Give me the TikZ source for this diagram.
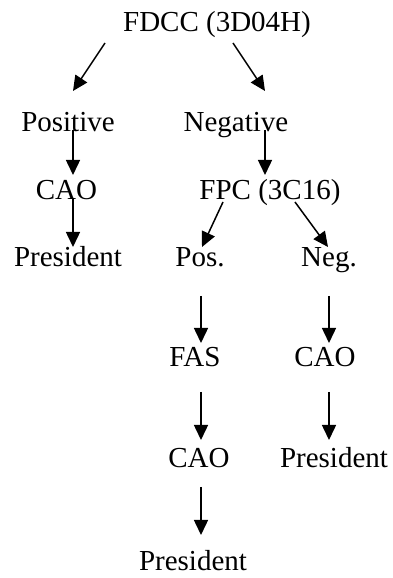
\documentclass[tikz,border=0pt]{standalone}
\usepackage{fontspec}
\setmainfont{Liberation Serif}
\usetikzlibrary{arrows.meta}
\begin{document}
\begin{tikzpicture}[x=1pt,y=1pt,
  lbl/.style={anchor=base,inner sep=0pt,font=\fontsize{29}{34}\selectfont},
  arr/.style={line width=1.5pt,-{Triangle[length=15pt,width=14pt]}}]
\useasboundingbox (0,0) rectangle (393,578);
\node[lbl] (fdcc) at (217,546) {FDCC (3D04H)};
\node[lbl] (positive) at (68,446) {Positive};
\node[lbl] (negative) at (236,446) {Negative};
\node[lbl] (caoa) at (66.5,378) {CAO};
\node[lbl] (fpc) at (270,378) {FPC (3C16)};
\node[lbl] (presa) at (68,311) {President};
\node[lbl] (pos) at (200,311) {Pos.};
\node[lbl] (neg) at (329,311) {Neg.};
\node[lbl] (fas) at (195,211) {FAS};
\node[lbl] (caob) at (325,211) {CAO};
\node[lbl] (caoc) at (199,110) {CAO};
\node[lbl] (presb) at (334,110) {President};
\node[lbl] (presc) at (193,8) {President};
% arrow end points
\coordinate (a1s) at (105,535); \coordinate (a1e) at (73,487);
\coordinate (a2s) at (233,535); \coordinate (a2e) at (265,487);
\coordinate (a3s) at (73,448); \coordinate (a3e) at (73,403);
\coordinate (a4s) at (265,448); \coordinate (a4e) at (265,403);
\coordinate (a5s) at (73,380); \coordinate (a5e) at (73,331);
\coordinate (a6s) at (223,376); \coordinate (a6e) at (202,331);
\coordinate (a7s) at (295,376); \coordinate (a7e) at (328,331);
\coordinate (a8s) at (201,282); \coordinate (a8e) at (201,235);
\coordinate (a9s) at (329,282); \coordinate (a9e) at (329,235);
\coordinate (a10s) at (201,186); \coordinate (a10e) at (201,138);
\coordinate (a11s) at (329,186); \coordinate (a11e) at (329,138);
\coordinate (a12s) at (201,91); \coordinate (a12e) at (201,43);
\foreach \i in {1,...,12} {\draw[arr] (a\i s) -- (a\i e);}
\end{tikzpicture}
\end{document}
